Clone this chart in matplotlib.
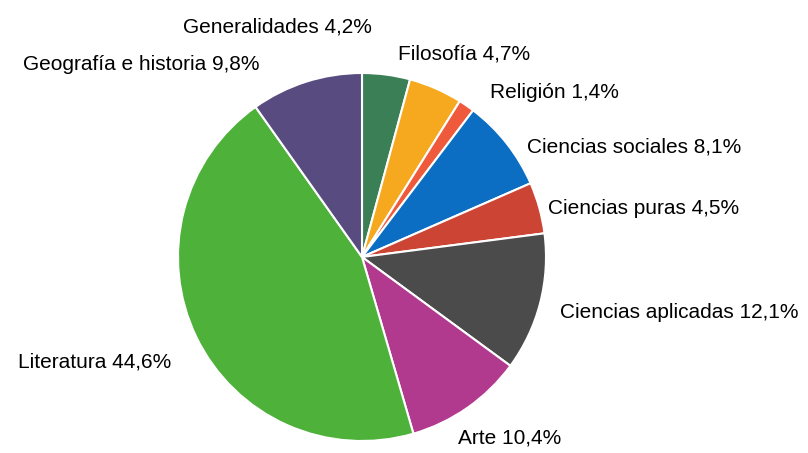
import matplotlib
matplotlib.use("Agg")
from matplotlib import pyplot as plt

categories = ["Generalidades", "Filosofía", "Religión", "Ciencias sociales",
              "Ciencias puras", "Ciencias aplicadas", "Arte", "Literatura",
              "Geografía e historia"]
shares = [4.2, 4.7, 1.4, 8.1, 4.5, 12.1, 10.4, 44.6, 9.8]
colors = ["#3b7f57", "#f6a81f", "#ef5a3c", "#0b6ec3", "#cc4534",
          "#4b4b4b", "#b1398e", "#4db13a", "#574b80"]

# label anchor (left x, centre y) in pixels from top-left
label_pos = [(183, 27), (398, 54), (490, 92), (527, 147), (548, 209),
             (560, 312), (458, 438), (18, 362), (23, 64)]

W, H = 808, 453
fig = plt.figure(figsize=(W / 100, H / 100), dpi=100)
ax = fig.add_axes([0, 0, 1, 1])
ax.set_xlim(0, W)
ax.set_ylim(0, H)
ax.set_aspect("equal")
ax.axis("off")

ax.pie(shares, colors=colors, startangle=90, counterclock=False,
       center=(362, H - 257), radius=184,
       wedgeprops=dict(edgecolor="white", linewidth=1.5))

for name, val, (x, y) in zip(categories, shares, label_pos):
    txt = f"{name} {val:.1f}%".replace(".", ",")
    ax.text(x, H - y, txt, ha="left", va="center", fontsize=15,
            family="Liberation Sans", color="black")

ax.set_xlim(0, W)
ax.set_ylim(0, H)
fig.savefig("out.png", dpi=100)
